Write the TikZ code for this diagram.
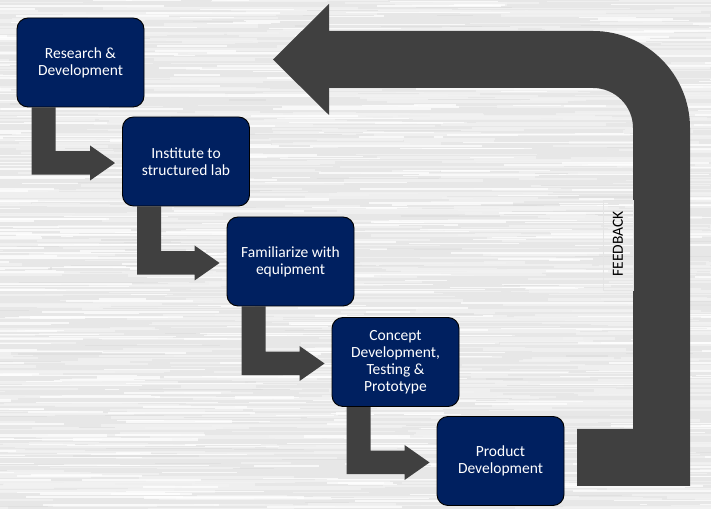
\documentclass[tikz,border=0pt]{standalone}
\usepackage{fontspec}
\setmainfont{Carlito}
\usetikzlibrary{calc}
\definecolor{navy}{RGB}{0,32,96}
\definecolor{arrowgray}{RGB}{64,64,64}
\definecolor{bggray}{RGB}{231,231,231}
\definecolor{streaklight}{RGB}{242,242,242}
\definecolor{streakdark}{RGB}{220,220,220}
\pgfdeclarelayer{texture}
\pgfdeclarelayer{conns}
\pgfsetlayers{texture,conns,main}
\tikzset{
  stepbox/.style={draw=black, line width=0.9bp, fill=navy, rounded corners=11bp,
    minimum width=127bp, minimum height=89bp, inner sep=0pt, text=white,
    align=center, font=\fontsize{15.5bp}{17bp}\selectfont},
  conn/.style={fill=arrowgray},
}
\newcommand{\blockconn}[2]{%
  \path[conn] let \p1=(#1.south west), \p2=(#2.west) in
    (\x1+15bp,\y1) -- (\x1+39bp,\y1) -- (\x1+39bp,\y2+10.25bp)
    -- (\x2-32bp,\y2+10.25bp) -- (\x2-32bp,\y2+16bp) -- (\x2-7bp,\y2-1.5bp)
    -- (\x2-32bp,\y2-19bp) -- (\x2-32bp,\y2-13.25bp) -- (\x1+15bp,\y2-13.25bp) -- cycle;}
\begin{document}
\begin{tikzpicture}[x=1bp,y=1bp]
\useasboundingbox (0,0) rectangle (711,509);
\begin{pgfonlayer}{texture}
% background with horizontal streaks
\fill[bggray] (0,0) rectangle (711,509);
\begin{scope}
\clip (0,0) rectangle (711,509);
\pgfmathsetseed{11}
\foreach \i in {1,...,900}{
  \pgfmathsetmacro\xx{rnd*900-150}
  \pgfmathsetmacro\yy{rnd*509}
  \pgfmathsetmacro\ll{40+rnd*220}
  \pgfmathsetmacro\ww{0.8+rnd*2.2}
  \draw[streaklight, line width=\ww bp, opacity=0.8] (\xx,\yy) -- ++(\ll,0);
}
\foreach \i in {1,...,500}{
  \pgfmathsetmacro\xx{rnd*900-150}
  \pgfmathsetmacro\yy{rnd*509}
  \pgfmathsetmacro\ll{30+rnd*160}
  \pgfmathsetmacro\ww{0.6+rnd*1.8}
  \draw[white, line width=\ww bp, opacity=0.75] (\xx,\yy) -- ++(\ll,0);
}
\foreach \i in {1,...,120}{
  \pgfmathsetmacro\xx{rnd*900-150}
  \pgfmathsetmacro\yy{rnd*509}
  \pgfmathsetmacro\ll{30+rnd*120}
  \pgfmathsetmacro\ww{0.5+rnd*1.2}
  \draw[streakdark, line width=\ww bp, opacity=0.6] (\xx,\yy) -- ++(\ll,0);
}
\end{scope}
% feedback arrow
\fill[arrowgray] (577,80) -- (633,80) -- (633,381) arc[start angle=0,end angle=90,radius=40]
  -- (329,421) -- (329,394) -- (273,449.5) -- (329,505) -- (329,478)
  -- (593,478) arc[start angle=90,end angle=0,radius=97]
  -- (690,23) -- (577,23) -- cycle;
\draw[black!10, line width=0.6bp] (603,219) rectangle (633,309);
\end{pgfonlayer}
\node[rotate=90, font=\fontsize{15.5bp}{17bp}\selectfont, text=black] (fb) at (618,265) {FEEDBACK};

% step boxes
\node[stepbox] (s1) at (80.5,446.5) {Research \&\\Development};
\node[stepbox] (s2) at (186,347.5) {Institute to\\structured lab};
\node[stepbox] (s3) at (290.5,247.5) {Familiarize with\\equipment};
\node[stepbox] (s4) at (395.5,147) {Concept\\Development,\\Testing \&\\Prototype};
\node[stepbox] (s5) at (500.5,48) {Product\\Development};

% connectors
\begin{pgfonlayer}{conns}
\blockconn{s1}{s2}
\blockconn{s2}{s3}
\blockconn{s3}{s4}
\blockconn{s4}{s5}
\end{pgfonlayer}
\end{tikzpicture}
\end{document}
